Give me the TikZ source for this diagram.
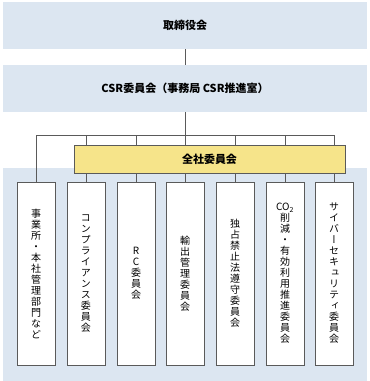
\documentclass[tikz,border=0pt]{standalone}
\usepackage{fontspec}
\setmainfont{Noto Sans CJK JP}
\newfontfamily\tatefont[RawFeature=+vert]{Noto Sans CJK JP}
\usetikzlibrary{positioning}
\definecolor{bandBlue}{HTML}{DCE6F1}
\definecolor{councilYellow}{HTML}{F6E48A}
\definecolor{lineGray}{HTML}{5A5A5A}

\begin{document}
\begin{tikzpicture}[x=1pt,y=-1pt,
  band/.style={fill=bandBlue,draw=none,minimum width=364pt,inner sep=0pt,font=\fontsize{11}{13}\selectfont\bfseries},
  unit/.style={draw=lineGray,line width=0.9pt,fill=white,minimum width=38pt,minimum height=183pt,inner sep=0pt,align=center,font=\tatefont\fontsize{10}{11}\selectfont},
  council/.style={draw=lineGray,line width=0.8pt,fill=councilYellow,minimum width=271pt,minimum height=28pt,inner sep=0pt,font=\fontsize{11}{13}\selectfont\bfseries},
  wire/.style={draw=lineGray,line width=0.8pt}]
\useasboundingbox (0,0) rectangle (370,381);
% management bands
\node[band,minimum height=47pt] (board) at (185,25.5) {取締役会};
\node[band,minimum height=47pt] (csr) at (185,88.5) {CSR委員会（事務局 CSR推進室）};
\node[band,minimum height=213pt] (area) at (185,274.5) {};
% committees
\foreach \i/\x/\t in {1/36/{事\\業\\所\\・\\本\\社\\管\\理\\部\\門\\な\\ど},
    2/86/{コ\\ン\\プ\\ラ\\イ\\ア\\ン\\ス\\委\\員\\会},
    3/136/{R\\C\\委\\員\\会},
    4/185/{輸\\出\\管\\理\\委\\員\\会},
    5/235/{独\\占\\禁\\止\\法\\遵\\守\\委\\員\\会},
    6/285/{CO\textsubscript{2}\\削\\減\\・\\有\\効\\利\\用\\推\\進\\委\\員\\会},
    7/334/{サ\\イ\\バ\\ー\\セ\\キ\\ュ\\リ\\テ\\ィ\\委\\員\\会}}
  \node[unit] (u\i) at (\x,273.5) {\t};
% connectors
\coordinate (bus) at (185,135);
\draw[wire] (board) -- (csr);
\draw[wire] (csr) -- (bus);
\foreach \i in {1,...,7}
  \draw[wire] (u\i.north) |- (bus);
\node[council] (zensha) at (209.5,159) {全社委員会};
\end{tikzpicture}
\end{document}
